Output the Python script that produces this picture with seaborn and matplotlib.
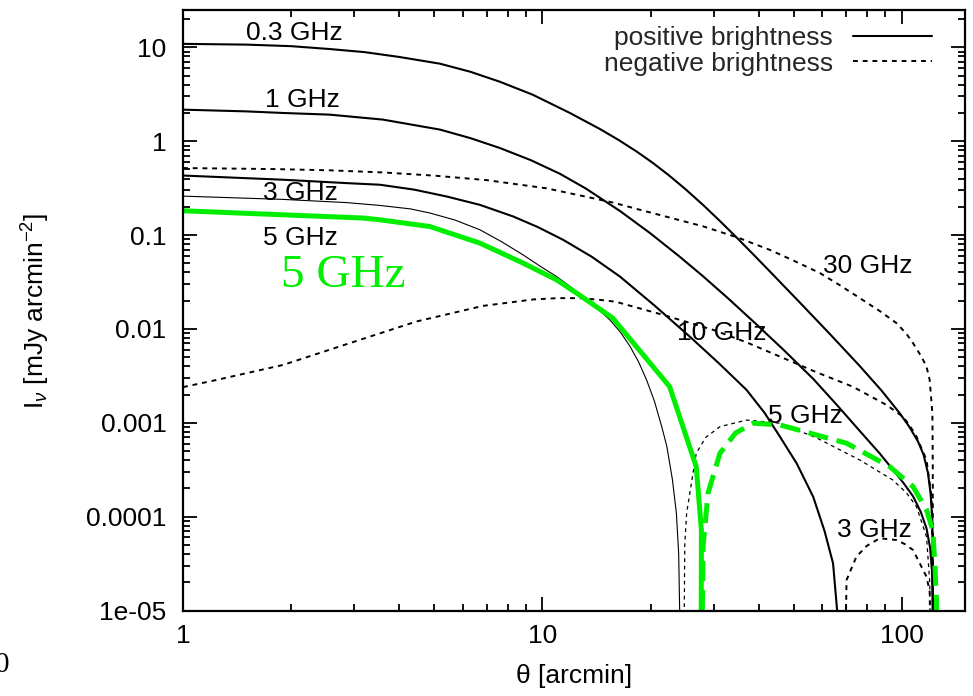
import matplotlib
matplotlib.use('Agg')
import matplotlib.pyplot as plt
import seaborn as sns
from matplotlib.lines import Line2D
from matplotlib.ticker import LogLocator, NullFormatter

# theta [arcmin] and I_nu [mJy arcmin^-2]
# positive brightness
theta_03 = [1, 1.5, 2.0, 2.56, 3.2, 4.0, 5.19, 6.3, 7.62, 9.4, 11.93, 14.5, 16.3, 18.3, 20.3, 22.5, 25.0,
            28.0, 31.0, 34.7, 38.5, 42.9, 52.0, 63.0, 76.4, 88.0, 98.7, 105, 111, 115, 118.3, 120.3,
            121.7, 122.0, 122.1]
inu_03 = [10.9, 10.7, 10.3, 9.6, 8.9, 7.9, 6.7, 5.5, 4.3, 3.13, 2.0, 1.341, 1.031, 0.776, 0.587, 0.433, 0.309,
          0.2094, 0.1446, 0.0944, 0.0631, 0.0412, 0.0192, 0.00889, 0.00403, 0.00219, 0.001266, 9.06e-4,
          6.31e-4, 4.58e-4, 2.92e-4, 1.77e-4, 9e-5, 1.5e-5, 1e-7]

theta_1 = [1, 1.5, 1.9, 2.56, 3.6, 5.19, 6.3, 7.62, 9.3, 11.19, 13.2, 16.43, 20.0, 24.1, 28.0, 33.0, 39.4,
           47.0, 56.7, 66.0, 76.4, 86.9, 94.6, 101, 107.5, 113, 117.2, 120, 121.5, 122.0, 122.1]
inu_1 = [2.17, 2.08, 2.0, 1.92, 1.7, 1.33, 1.08, 0.846, 0.627, 0.45, 0.314, 0.181, 0.104, 0.0589, 0.0364,
         0.0209, 0.0112, 0.00594, 0.00294, 0.00155, 8.2e-4, 4.7e-4, 3.15e-4, 2.3e-4, 1.65e-4, 1.12e-4,
         7.5e-5, 4.6e-5, 2.5e-5, 1.2e-5, 1e-7]

theta_3 = [1, 1.9, 2.85, 3.53, 4.4, 5.41, 6.7, 8.29, 9.7, 11.42, 13.7, 16.43, 20.5, 25.7, 31.0, 37.0, 41.5,
           45.8, 51.0, 56.7, 61.0, 64.4, 66.1, 66.2]
inu_3 = [0.431, 0.389, 0.358, 0.344, 0.305, 0.258, 0.21, 0.158, 0.122, 0.0891, 0.059, 0.0362, 0.0178, 0.0083,
         0.0043, 0.00224, 0.00128, 7.13e-4, 3.7e-4, 1.63e-4, 7e-5, 3.18e-5, 1.0e-5, 1e-7]

theta_5 = [1, 1.9, 2.85, 3.53, 4.3, 4.86, 5.7, 6.7, 7.7, 8.84, 10.0, 10.95, 12.0, 13.27, 14.4, 15.41, 16.5,
           17.5, 18.5, 19.5, 20.5, 21.5, 22.2, 23.0, 23.6, 23.95, 24.1, 24.15]
inu_5 = [0.26, 0.24, 0.222, 0.207, 0.19, 0.172, 0.145, 0.114, 0.085, 0.0615, 0.045, 0.0362, 0.028, 0.0204,
         0.0158, 0.0125, 0.0092, 0.0066, 0.0045, 0.00286, 0.0017, 9e-4, 5.6e-4, 2.5e-4, 1.09e-4, 4e-5, 1e-5, 1e-7]

theta_5g = [1, 3.17, 3.53, 4.86, 6.70, 8.84, 10.95, 12.72, 15.7, 22.6, 26.8, 27.7, 27.6]
inu_5g = [0.1816, 0.152, 0.1455, 0.1235, 0.0822, 0.0503, 0.0334, 0.0228, 0.01303, 0.00243, 3.41e-4, 7.2e-5, 1e-7]

# negative brightness
theta_30n = [1, 1.8, 2.56, 3.6, 5.0, 7.0, 10.27, 13.0, 15.74, 18.3, 28.0, 35.0, 42.9, 50.0, 59.2, 67.0, 74.8,
             86.9, 96.7, 103, 107.5, 113.4, 117.2, 119.6, 121.7, 122.0, 122.1]
inu_30n = [0.518, 0.505, 0.49, 0.465, 0.43, 0.385, 0.315, 0.26, 0.222, 0.19, 0.124, 0.094, 0.0697, 0.0535,
           0.0394, 0.0295, 0.0225, 0.0155, 0.01153, 0.0089, 0.00706, 0.00508, 0.00397, 0.00286, 1.26e-3, 3.7e-4, 1e-7]

theta_10n = [1, 1.238, 1.9, 2.91, 4.46, 6.83, 9.41, 11.0, 12.72, 14.3, 16.0, 21.7, 29.9, 37.0, 45.8, 58.0,
             73.0, 90.7, 100.8, 105, 109.9, 117.2, 121.0, 122.0, 122.1]
inu_10n = [0.0024, 0.00286, 0.00414, 0.00706, 0.0120, 0.0176, 0.0206, 0.0213, 0.0213, 0.0205, 0.0195, 0.0141,
           0.00977, 0.0072, 0.00508, 0.00345, 0.00243, 0.00155, 0.00116, 9.5e-4, 7.13e-4, 4.02e-4, 1.63e-4, 3.2e-5, 1e-7]

theta_5n = [24.6, 24.9, 25.2, 26.8, 28.5, 31.2, 37.0, 45.8, 58.0, 70.2, 76.4, 94.4, 103, 109.9, 117.2, 119.7, 120.5]
inu_5n = [1e-7, 5e-5, 1.09e-4, 4.74e-4, 7e-4, 9.1e-4, 1.07e-3, 9.9e-4, 6.9e-4, 4.74e-4, 4.02e-4, 2.46e-4,
          1.8e-4, 1.28e-4, 6.12e-5, 1.96e-5, 1e-7]

theta_5gn = [27.5, 28.0, 28.9, 31.2, 34.5, 38.6, 45.8, 70.2, 92.6, 107.5, 117.2, 122.0, 123.6, 124.9, 125.0]
inu_5gn = [1e-7, 4.79e-5, 1.78e-4, 4.74e-4, 7.8e-4, 9.9e-4, 9.5e-4, 6.06e-4, 3.41e-4, 2.09e-4, 1.18e-4,
           7.2e-5, 3.21e-5, 1.3e-5, 1e-7]

theta_3n = [68.7, 70.2, 74.8, 80.0, 86.9, 96.7, 102, 107.5, 117.2, 119.6, 121.8]
inu_3n = [1e-7, 2.11e-5, 3.75e-5, 4.9e-5, 5.89e-5, 5.64e-5, 5.1e-5, 4.42e-5, 2.29e-5, 1.6e-5, 1e-7]

y_ticks = [10, 1, 0.1, 0.01, 0.001, 0.0001, 1e-5]
y_ticklabels = ['10', '1', '0.1', '0.01', '0.001', '0.0001', '1e-05']
x_ticks = [1, 10, 100]
x_ticklabels = ['1', '10', '100']

sns.set_theme(style='ticks')
plt.rcParams['font.family'] = ['Liberation Sans', 'DejaVu Sans']
plt.rcParams['mathtext.fontset'] = 'custom'
plt.rcParams['mathtext.rm'] = 'Liberation Sans'
plt.rcParams['mathtext.it'] = 'Liberation Sans:italic'

GREEN = '#00ee00'
DOT = (0, (2.5, 2.5))

fig = plt.figure(figsize=(9.73, 6.96), dpi=100)
ax = fig.add_axes([0.1881, 0.1228, 0.8037, 0.8628])

curves = [
    (theta_03, inu_03, 'black', 1.5, '-'),
    (theta_1, inu_1, 'black', 1.5, '-'),
    (theta_3, inu_3, 'black', 1.5, '-'),
    (theta_5, inu_5, 'black', 0.8, '-'),
    (theta_30n, inu_30n, 'black', 1.4, DOT),
    (theta_10n, inu_10n, 'black', 1.4, DOT),
    (theta_5n, inu_5n, 'black', 0.9, (0, (3, 3))),
    (theta_3n, inu_3n, 'black', 1.4, DOT),
    (theta_5g, inu_5g, GREEN, 3.6, '-'),
    (theta_5gn, inu_5gn, GREEN, 3.6, (0, (4, 1.8))),
]
for xs, ys, c, lw, ls in curves:
    sns.lineplot(x=xs, y=ys, ax=ax, color=c, linewidth=lw, linestyle=ls,
                 sort=False, estimator=None)

ax.set_xscale('log')
ax.set_yscale('log')
ax.set_xlim(1, 150)
ax.set_ylim(1e-5, 25)

ax.set_xticks(x_ticks, x_ticklabels)
ax.set_yticks(y_ticks, y_ticklabels)
ax.xaxis.set_minor_locator(LogLocator(base=10, subs=range(2, 10), numticks=20))
ax.yaxis.set_minor_locator(LogLocator(base=10, subs=range(2, 10), numticks=20))
ax.xaxis.set_minor_formatter(NullFormatter())
ax.yaxis.set_minor_formatter(NullFormatter())
ax.tick_params(which='both', direction='in', top=True, right=True, color='black', width=1.3)
ax.tick_params(which='major', length=10, labelsize=19, labelcolor='black')
ax.tick_params(which='minor', length=5)
ax.tick_params(axis='y', which='major', pad=12)
ax.tick_params(axis='x', which='major', pad=10)
for s in ax.spines.values():
    s.set_color('black')
    s.set_linewidth(1.6)

ax.set_xlabel('θ [arcmin]', fontsize=19, color='black')
ax.set_ylabel(r'I$_{\nu}$ [mJy arcmin$^{\mathrm{-2}}$]', fontsize=19, color='black')
ax.xaxis.set_label_coords(0.5, -0.089)
ax.yaxis.set_label_coords(-0.1675, 0.5)

# curve labels
labels = [
    ('0.3 GHz', 0.0806, 0.950), ('1 GHz', 0.1049, 0.8385), ('3 GHz', 0.1023, 0.6836),
    ('5 GHz', 0.1023, 0.6087), ('30 GHz', 0.8184, 0.5620), ('10 GHz', 0.6317, 0.4505),
    ('5 GHz', 0.7481, 0.3122), ('3 GHz', 0.8363, 0.1224),
]
for txt, lx, ly in labels:
    ax.text(lx, ly, txt, transform=ax.transAxes, fontsize=19, color='black',
            ha='left', va='baseline')
ax.text(0.1253, 0.5387, '5 GHz', transform=ax.transAxes, fontsize=34, color=GREEN,
        family='Liberation Serif', ha='left', va='baseline')
fig.text(-5 / 973, 1 - 672 / 696, '0', fontsize=21, family='Liberation Serif',
         color='black', va='baseline')

handles = [Line2D([], [], color='black', lw=1.5),
           Line2D([], [], color='black', lw=1.4, ls=DOT)]
ax.legend(handles, ['positive brightness', 'negative brightness'], loc='upper right',
          bbox_to_anchor=(0.958, 0.973), frameon=False, markerfirst=False,
          handlelength=3.0, handletextpad=0.76, fontsize=19, labelspacing=0.05,
          borderpad=0, borderaxespad=0)

fig.savefig('out.png', dpi=100)
